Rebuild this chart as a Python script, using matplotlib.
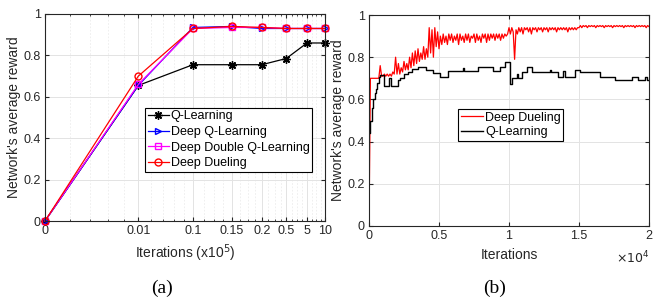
import numpy as np
import matplotlib
matplotlib.use("Agg")
import matplotlib.pyplot as plt
from matplotlib.ticker import FixedLocator, NullFormatter

plt.rcParams['font.family'] = ['Liberation Sans', 'DejaVu Sans']

# ---------------- (a) data ----------------
tick_labels_a = ['0', '0.01', '0.1', '0.15', '0.2', '0.5', '5', '10']
q_learning = [0.0, 0.655, 0.755, 0.755, 0.755, 0.785, 0.86, 0.86]
deep_q = [0.0, 0.655, 0.935, 0.94, 0.93, 0.93, 0.93, 0.93]
deep_double_q = [0.0, 0.66, 0.93, 0.935, 0.935, 0.93, 0.93, 0.93]
deep_dueling = [0.0, 0.70, 0.93, 0.94, 0.935, 0.93, 0.93, 0.93]

# ---------------- (b) data ----------------
dueling_step = 100
dueling_b = [
    0.00, 0.70, 0.70, 0.70, 0.70, 0.70, 0.70, 0.70, 0.76, 0.71,
    0.71, 0.72, 0.71, 0.72, 0.71, 0.72, 0.71, 0.73, 0.72, 0.80,
    0.72, 0.77, 0.72, 0.75, 0.73, 0.78, 0.74, 0.77, 0.74, 0.80,
    0.75, 0.82, 0.76, 0.83, 0.77, 0.84, 0.78, 0.82, 0.79, 0.85,
    0.79, 0.84, 0.80, 0.94, 0.82, 0.93, 0.80, 0.94, 0.85, 0.92,
    0.84, 0.90, 0.86, 0.91, 0.87, 0.90, 0.86, 0.91, 0.88, 0.91,
    0.87, 0.90, 0.88, 0.91, 0.86, 0.91, 0.88, 0.90, 0.87, 0.91,
    0.88, 0.91, 0.87, 0.90, 0.89, 0.91, 0.87, 0.91, 0.88, 0.90,
    0.87, 0.91, 0.89, 0.91, 0.87, 0.91, 0.88, 0.91, 0.89, 0.91,
    0.88, 0.91, 0.89, 0.91, 0.88, 0.91, 0.89, 0.91, 0.90, 0.91,
    0.94, 0.91, 0.94, 0.92, 0.79, 0.93, 0.91, 0.94, 0.92, 0.94,
    0.91, 0.94, 0.93, 0.94, 0.92, 0.94, 0.91, 0.94, 0.93, 0.94,
    0.92, 0.94, 0.93, 0.94, 0.92, 0.94, 0.93, 0.94, 0.92, 0.94,
    0.93, 0.94, 0.93, 0.94, 0.92, 0.94, 0.93, 0.94, 0.93, 0.94,
    0.93, 0.94, 0.92, 0.94, 0.93, 0.94, 0.93, 0.94, 0.93, 0.94,
    0.94, 0.95, 0.94, 0.95, 0.945, 0.95, 0.94, 0.95, 0.945, 0.95,
    0.945, 0.95, 0.94, 0.95, 0.945, 0.95, 0.945, 0.95, 0.94, 0.95,
    0.945, 0.95, 0.945, 0.95, 0.94, 0.95, 0.945, 0.95, 0.945, 0.95,
    0.945, 0.95, 0.94, 0.95, 0.945, 0.95, 0.945, 0.95, 0.945, 0.95,
    0.94, 0.95, 0.945, 0.95, 0.945, 0.95, 0.945, 0.95, 0.94, 0.95,
    0.945,
]
qlearn_b_x = [0, 100, 200, 300, 400, 500, 600, 700, 800, 1100, 1400, 1550,
              2050, 2200, 2500, 2800, 3100, 3500, 4100, 4600, 5070, 5670,
              6700, 6800, 7800, 8880, 9350, 9710, 10070, 10190, 10550, 10670,
              10900, 11260, 11620, 12900, 13000, 13520, 13880, 14000, 14700,
              15070, 16500, 17570, 18760, 19240, 19710, 19830, 20000]
qlearn_b_y = [0.44, 0.50, 0.56, 0.60, 0.63, 0.65, 0.68, 0.705, 0.715, 0.665,
              0.70, 0.665, 0.69, 0.70, 0.72, 0.73, 0.745, 0.755, 0.74, 0.725,
              0.705, 0.735, 0.75, 0.735, 0.755, 0.735, 0.755, 0.775, 0.675,
              0.70, 0.72, 0.70, 0.73, 0.755, 0.73, 0.74, 0.73, 0.705, 0.735,
              0.705, 0.74, 0.73, 0.705, 0.69, 0.705, 0.69, 0.705, 0.69, 0.69]

W, H = 653, 302
fig = plt.figure(figsize=(W / 100, H / 100), dpi=100)

axcol = '#262626'
gridcol = '#e3e3e3'
fs_tick = 9
fs_lab = 10
fs_leg = 9

def style(ax):
    for s in ax.spines.values():
        s.set_color(axcol)
        s.set_linewidth(0.8)
    ax.tick_params(which='both', direction='in', top=True, right=True,
                   colors=axcol, labelsize=fs_tick, pad=3)
    ax.tick_params(which='major', length=3)
    ax.tick_params(which='minor', length=1.6)
    ax.set_axisbelow(True)

# ---------------- (a) ----------------
axa = fig.add_axes([45 / W, 1 - 221 / H, 280 / W, 207 / H])
pos = np.arange(1, len(tick_labels_a) + 1)
axa.set_xscale('log')
axa.set_xlim(1, 8)
axa.set_ylim(0, 1)
minor = list(np.arange(1.2, 3.0, 0.2)) + list(np.arange(3.25, 8.0, 0.25))
minor = [m for m in minor if abs(m - round(m)) > 1e-6]
axa.xaxis.set_major_locator(FixedLocator(pos))
axa.xaxis.set_minor_locator(FixedLocator(minor))
axa.xaxis.set_minor_formatter(NullFormatter())
axa.set_xticklabels(tick_labels_a)
axa.set_yticks([0, 0.2, 0.4, 0.6, 0.8, 1.0])
axa.set_yticklabels(['0', '0.2', '0.4', '0.6', '0.8', '1'])
axa.grid(True, which='major', color=gridcol, linewidth=0.7)
axa.grid(True, which='minor', axis='x', color='#ececec', linewidth=0.6, linestyle=(0, (2, 2)))
style(axa)

star = (8, 2, 0)
axa.plot(pos, q_learning, color='black', lw=0.9, marker=star, ms=6, mew=1.0, label='Q-Learning')
axa.plot(pos, deep_q, color='#0000ff', lw=0.9, marker='>', ms=5, mfc='none', label='Deep Q-Learning')
axa.plot(pos, deep_double_q, color='#ff00ff', lw=0.9, marker='s', ms=4.5, mfc='none', label='Deep Double Q-Learning')
axa.plot(pos, deep_dueling, color='#ff0000', lw=0.9, marker='o', ms=5, mfc='none', label='Deep Dueling')
for l in axa.lines:
    l.set_clip_on(False)
leg = axa.legend(loc='upper left', bbox_to_anchor=((145 - 45) / 280, (221 - 108) / 207),
                 borderaxespad=0, fontsize=fs_leg, fancybox=False, framealpha=1,
                 edgecolor='black', handlelength=1.7, handletextpad=0.15,
                 labelspacing=0.28, borderpad=0.2)
leg.get_frame().set_linewidth(0.8)
axa.set_ylabel("Network's average reward", fontsize=fs_lab, color=axcol, labelpad=2)
axa.set_xlabel("Iterations (x10$^5$)", fontsize=fs_lab, color=axcol, labelpad=4)

# ---------------- (b) ----------------
axb = fig.add_axes([369 / W, 1 - 226 / H, 280 / W, 211 / H])
dx = [i * dueling_step for i in range(len(dueling_b))]
axb.plot(dx, dueling_b, color='#ff0000', lw=0.9, label='Deep Dueling')
axb.step(qlearn_b_x, qlearn_b_y, where='post', color='black', lw=1.0, label='Q-Learning')
axb.set_xlim(0, 20000)
axb.set_ylim(0, 1)
axb.set_xticks([0, 5000, 10000, 15000, 20000])
axb.set_xticklabels(['0', '0.5', '1', '1.5', '2'])
axb.set_yticks([0, 0.2, 0.4, 0.6, 0.8, 1.0])
axb.set_yticklabels(['0', '0.2', '0.4', '0.6', '0.8', '1'])
axb.grid(True, which='major', color=gridcol, linewidth=0.7)
style(axb)
leg2 = axb.legend(loc='upper left', bbox_to_anchor=((458 - 369) / 280, (226 - 109) / 211),
                  borderaxespad=0, fontsize=fs_leg, fancybox=False, framealpha=1,
                  edgecolor='black', handlelength=1.8, handletextpad=0.15,
                  labelspacing=0.2, borderpad=0.2)
leg2.get_frame().set_linewidth(0.8)
axb.set_ylabel("Network's average reward", fontsize=fs_lab, color=axcol, labelpad=2)
axb.set_xlabel("Iterations", fontsize=fs_lab, color=axcol, labelpad=4)
axb.text(1.0, -(258 - 226) / 211, r'$\times10^4$', transform=axb.transAxes, ha='right',
         va='center', fontsize=fs_tick, color=axcol)

# captions
fig.text(162 / W, 1 - 288 / H, '(a)', ha='center', va='center', fontsize=14,
         family='Liberation Serif')
fig.text(495 / W, 1 - 288 / H, '(b)', ha='center', va='center', fontsize=14,
         family='Liberation Serif')

fig.savefig('out.png', dpi=100)
